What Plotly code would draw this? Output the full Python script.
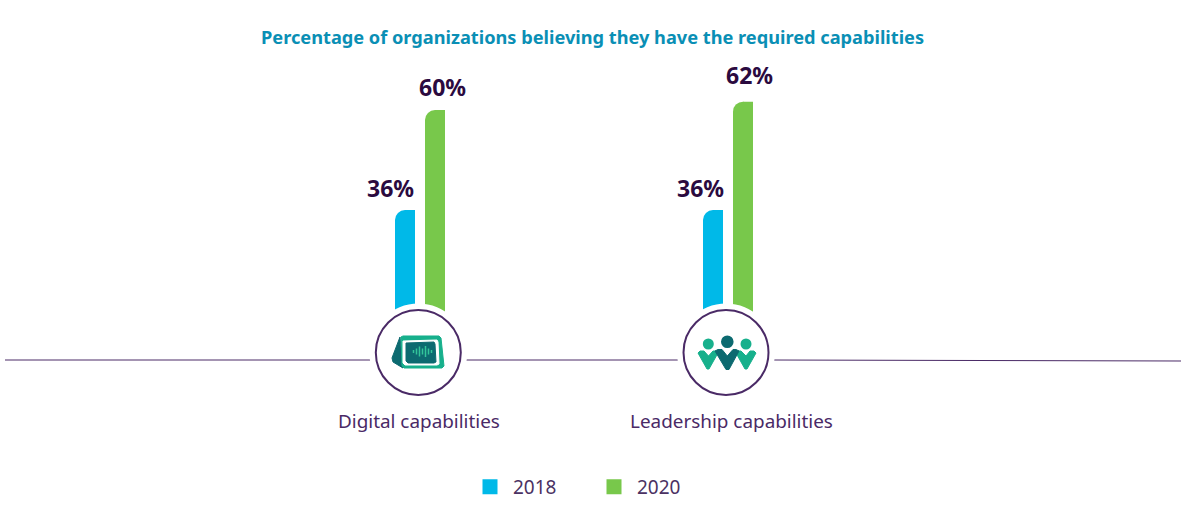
import plotly.graph_objects as go

categories = ["Digital capabilities", "Leadership capabilities"]
values_2018 = [36, 36]
values_2020 = [60, 62]
series_names = ["2018", "2020"]

W, H = 1187, 510
PX_PER_CAT = 308
CENTER0 = 420
PX_PER_VAL = 100 / 24
BASE_Y = 360
BLUE, GREEN = "#00b9e8", "#78c84b"
PURPLE = "#4a2a66"
INK = "#2b0a3f"
MID = "#17b08c"
DARK = "#0c6a70"
FONT = "Noto Sans"

def px(v):
    return v / W

def py(v):
    return 1 - v / H

def u(p):
    return p / PX_PER_CAT

xs = list(range(len(categories)))
fig = go.Figure()

def add_series(name, vals, color, off_px):
    fig.add_bar(x=xs, y=vals, name=name, width=u(20), offset=u(off_px), showlegend=False,
                marker=dict(color=color, line_width=0, cornerradius=10),
                hoverinfo="skip")
    fig.add_bar(x=xs, y=vals, name=name, width=u(10), offset=u(off_px + 10),
                marker=dict(color=color, line_width=0), showlegend=False,
                hoverinfo="skip")
    # key entry only: a square swatch, no mark in the plot
    fig.add_bar(x=[None], y=[None], name=name, showlegend=True,
                marker=dict(color=color, line=dict(color=color, width=3)),
                hoverinfo="skip")

add_series(series_names[0], values_2018, BLUE, -25)
add_series(series_names[1], values_2020, GREEN, 5)

shapes = []

def line(x0, y0, x1, y1, color=PURPLE, w=1):
    shapes.append(dict(type="line", xref="paper", yref="paper", x0=px(x0), x1=px(x1),
                       y0=py(y0), y1=py(y1), line=dict(color=color, width=w), layer="above"))

def circle(cx, cy, r, fill, lc=None, w=0):
    shapes.append(dict(type="circle", xref="paper", yref="paper",
                       x0=px(cx - r), x1=px(cx + r), y0=py(cy + r), y1=py(cy - r),
                       fillcolor=fill, line=dict(color=lc or fill, width=w), layer="above"))

def poly(points, fill):
    d = "M" + " L".join(f"{px(a):.5f},{py(b):.5f}" for a, b in points) + " Z"
    shapes.append(dict(type="path", xref="paper", yref="paper", path=d, fillcolor=fill,
                       line=dict(color=fill, width=1), layer="above"))

line(5, 360, 372, 360)
line(466, 360, 680, 360)
line(773, 360, 1181, 361)

for cx in (418.3, 726):
    circle(cx, 352.5, 49, "white")
    circle(cx, 352.5, 42.5, "white", PURPLE, 2)

# tablet icon
poly([(400, 337), (392, 358), (393, 362), (403, 368)], DARK)
poly([(401, 337), (403, 336), (439, 336), (441, 338), (444, 366), (442, 368), (404, 368), (402, 366)], MID)
poly([(403, 341), (437, 340), (438, 342), (439, 364), (437, 365), (405, 365), (403, 363)], "white")
poly([(406, 343), (434, 342), (435, 344), (436, 362), (434, 363), (408, 363), (406, 361)], DARK)
for dx, h in zip((414, 417, 420, 423, 426, 429, 432), (3, 6, 10, 6, 11, 6, 3)):
    line(dx - 0.5, 352 - h / 2 - 0.5, dx - 0.5, 352 + h / 2 - 0.5, "#33c59a", 1.5)

# people icon
circle(708.3, 344, 5.5, MID)
circle(746, 344, 5.5, MID)
poly([(698, 353), (700, 351), (704, 351), (708.5, 356), (713, 351), (716, 351), (718, 353), (709, 369), (707, 369)], MID)
poly([(736, 353), (738, 351), (741, 351), (746, 356), (750, 351), (754, 351), (756, 353), (747, 369), (745, 369)], MID)
circle(727.3, 341.7, 6.3, DARK)
poly([(715, 351), (718, 349.5), (722, 349.5), (727.3, 356), (733, 349.5), (736, 349.5), (739, 351), (729, 369.5), (726, 369.5)], DARK)

annotations = [dict(xref="paper", yref="paper", x=px(592), y=py(37), xanchor="center", yanchor="middle",
                    text="<b>Percentage of organizations believing they have the required capabilities</b>",
                    showarrow=False, font=dict(family=FONT, size=18.2, color="#0a8fb5"))]

for i, c in enumerate(categories):
    annotations.append(dict(xref="x", yref="paper", x=i, y=py(421), text=c, showarrow=False,
                            xanchor="center", yanchor="middle",
                            xshift=(-1, 3)[i], font=dict(family=FONT, size=18.9, color=PURPLE)))

for vals, shifts in ((values_2018, (-30, -28)), (values_2020, (22, 21))):
    for i, v in enumerate(vals):
        annotations.append(dict(xref="x", yref="y", x=i, y=v, text=f"<b>{v}%</b>", showarrow=False,
                                xanchor="center", yanchor="middle",
                                xshift=shifts[i], yshift=22 if v < 60 else (23 if v == 60 else 27),
                                font=dict(family=FONT, size=23, color=INK)))

fig.update_layout(
    width=W, height=H, autosize=False, margin=dict(l=0, r=0, t=0, b=0),
    paper_bgcolor="white", plot_bgcolor="white", barmode="overlay",
    xaxis=dict(range=[-CENTER0 / PX_PER_CAT, (W - CENTER0) / PX_PER_CAT], visible=False, fixedrange=True),
    yaxis=dict(range=[-(H - BASE_Y) / PX_PER_VAL, BASE_Y / PX_PER_VAL], visible=False, fixedrange=True),
    shapes=shapes, annotations=annotations,
    legend=dict(orientation="h", xref="paper", yref="paper", x=px(467), y=py(487), xanchor="left",
                yanchor="middle", entrywidth=73, entrywidthmode="pixels", itemwidth=36, traceorder="normal",
                font=dict(family=FONT, size=19, color="#4b3263"), bgcolor="rgba(0,0,0,0)"),
    showlegend=True,
)
fig.write_html("out.html", config=dict(displayModeBar=False),
               post_script="document.body.style.margin='0';document.body.style.overflow='hidden';")
